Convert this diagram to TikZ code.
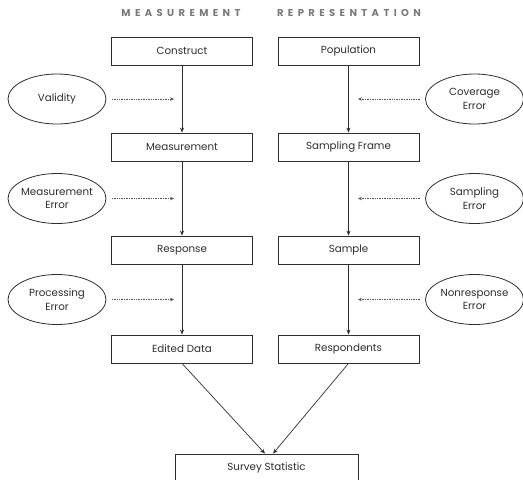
\documentclass[tikz,border=0pt]{standalone}
\usepackage{fontspec}
\setmainfont{Poppins}
\newfontfamily\titlefont[LetterSpace=44]{Poppins}
\usetikzlibrary{arrows.meta,shapes.geometric}
\definecolor{ink}{HTML}{2E2E2E}
\definecolor{titlegray}{HTML}{7A7A7A}
\definecolor{dotgray}{HTML}{555555}
\begin{document}
\begin{tikzpicture}[x=1pt,y=-1pt,
  box/.style={draw=ink, line width=0.8pt, minimum width=141pt, minimum height=28pt,
    inner sep=0pt, font=\fontsize{10.3}{12}\selectfont, text=ink},
  oval/.style={ellipse, draw=ink, line width=0.8pt, minimum width=98pt, minimum height=50pt,
    inner xsep=-6pt, inner ysep=0pt, align=center, font=\fontsize{10.3}{13.5}\selectfont, text=ink},
  flow/.style={draw=ink, line width=0.7pt, -{Stealth[length=5pt,width=4pt]}},
  effect/.style={draw=dotgray, densely dotted, line width=0.7pt, -{Stealth[length=4pt,width=3.5pt]}},
  title/.style={font=\titlefont\bfseries\fontsize{10}{11}\selectfont, text=titlegray}
]
\useasboundingbox (0,0) rectangle (523,480);

% titles
\node[title] (tm) at (181,13) {MEASUREMENT};
\node[title] (tr) at (349,13) {REPRESENTATION};

% measurement column
\node[box] (construct) at (182,51)  {Construct};
\node[box] (measure)   at (182,147) {Measurement};
\node[box] (response)  at (182,250) {Response};
\node[box] (edited)    at (182,349) {Edited Data};

% representation column
\node[box] (pop)     at (348.5,51)  {Population};
\node[box] (frame)   at (348.5,147) {Sampling Frame};
\node[box] (sample)  at (348.5,250) {Sample};
\node[box] (resp)    at (348.5,349) {Respondents};

% final
\node[box, minimum width=183pt] (stat) at (266.5,468) {Survey Statistic};

% error ovals
\node[oval] (validity) at (57,99)    {Validity};
\node[oval] (merr)     at (57,198.5) {Measurement\\Error};
\node[oval] (perr)     at (57,299.5) {Processing\\Error};
\node[oval] (cerr)     at (474.5,99)    {Coverage\\Error};
\node[oval] (serr)     at (474.5,198.5) {Sampling\\Error};
\node[oval] (nerr)     at (474.5,299.5) {Nonresponse\\Error};

% flows
\draw[flow] (construct) -- (measure);
\draw[flow] (measure) -- (response);
\draw[flow] (response) -- (edited);
\draw[flow] (pop) -- (frame);
\draw[flow] (frame) -- (sample);
\draw[flow] (sample) -- (resp);
\draw[flow] (edited.south) -- ([xshift=-1.5pt]stat.north);
\draw[flow] (resp.south) -- ([xshift=6.5pt]stat.north);

% error effects
\coordinate (sv) at (112,99);
\coordinate (sm) at (112,198.5);
\coordinate (sp) at (112,299.5);
\coordinate (sc) at (420,99);
\coordinate (ss) at (420,198.5);
\coordinate (sn) at (420,299.5);
\coordinate (lv) at (174,99);
\coordinate (lm) at (174,198.5);
\coordinate (lp) at (174,299.5);
\coordinate (rc) at (358,99);
\coordinate (rs) at (358,198.5);
\coordinate (rn) at (358,299.5);
\draw[effect] (sv) -- (lv);
\draw[effect] (sm) -- (lm);
\draw[effect] (sp) -- (lp);
\draw[effect] (sc) -- (rc);
\draw[effect] (ss) -- (rs);
\draw[effect] (sn) -- (rn);
\end{tikzpicture}
\end{document}
